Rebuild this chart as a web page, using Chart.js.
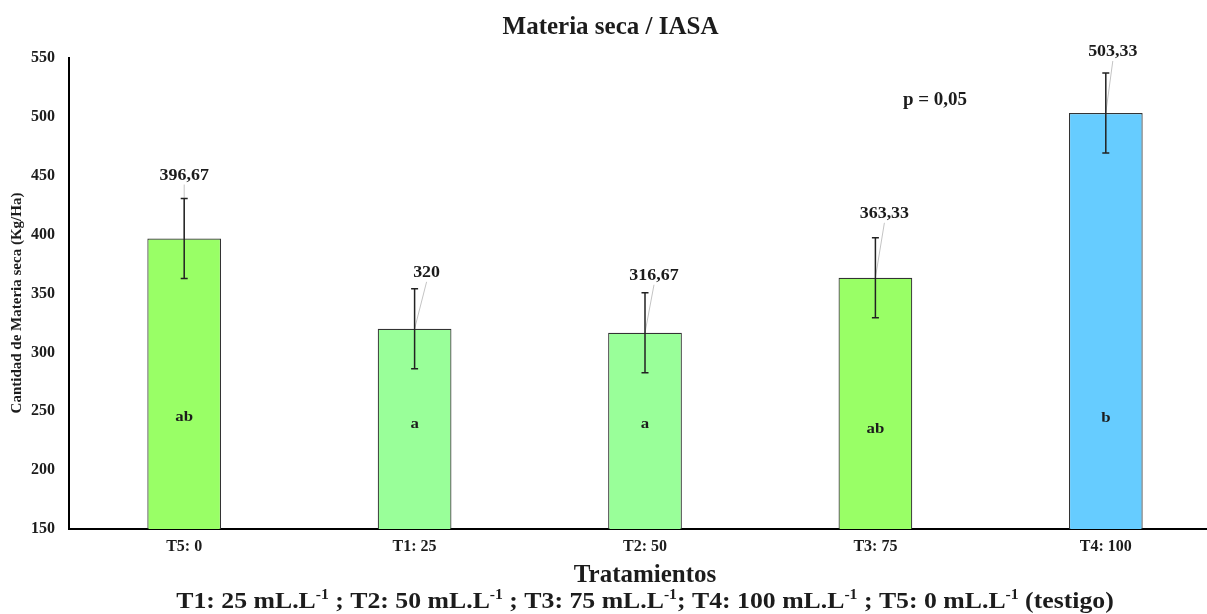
<!DOCTYPE html>
<html>
<head>
<meta charset="utf-8">
<script src="https://cdn.jsdelivr.net/npm/chart.js@4/dist/chart.umd.min.js"></script>
<style>
  html, body { margin: 0; padding: 0; background: #fff; overflow: hidden; }
  #wrap { width: 1222px; height: 614px; }
</style>
</head>
<body>
<div id="wrap"><canvas id="c" width="1222" height="614"></canvas></div>
<script>
// Dry matter per treatment (kg/ha), standard error and Tukey groups
const categories = ['T5: 0', 'T1: 25', 'T2: 50', 'T3: 75', 'T4: 100'];
const means = [396.67, 320, 316.67, 363.33, 503.33];
const errors = [34, 34, 34, 34, 34];
const groups = ['ab', 'a', 'a', 'ab', 'b'];
const yMin = 150, yMax = 550, yStep = 50;
const barColors = ['#99FF66', '#99FF99', '#99FF99', '#99FF66', '#66CCFF'];

const titleText = 'Materia seca / IASA';
const yTitleText = 'Cantidad de Materia seca (Kg/Ha)';
const xTitleText = 'Tratamientos';
const pText = 'p = 0,05';
// Footer legend: [text, isSuperscript]
const footerParts = [
  ['T1: 25 mL.L', false], ['-1', true], [' ; T2: 50 mL.L', false], ['-1', true],
  [' ; T3: 75 mL.L', false], ['-1', true], ['; T4: 100 mL.L', false], ['-1', true],
  [' ; T5: 0 mL.L', false], ['-1', true], [' (testigo)', false]
];

// Placement of value labels relative to the top of each bar (px)
const labelShift = [[0, -63], [12, -56], [9, -57], [9, -64], [7, -61]];
// Value-axis height at which each group letter sits
const letterAt = [245, 239, 239, 235, 244];

const SERIF = '"Liberation Serif", "Times New Roman", serif';
const INK = '#1c1c1c';
const WIDEN = 1.12; // horizontal stretch of annotation text

const fmt = v => String(v).replace('.', ',');

// draw text centred at (x, y), slightly widened
function wideText(ctx, text, x, y, font) {
  ctx.save();
  ctx.font = font;
  ctx.textAlign = 'center';
  ctx.textBaseline = 'middle';
  ctx.translate(x, y);
  ctx.scale(WIDEN, 1);
  ctx.fillText(text, 0, 0);
  ctx.restore();
}

const annotate = {
  id: 'annotate',
  afterDatasetsDraw(chart) {
    const ctx = chart.ctx;
    const meta = chart.getDatasetMeta(0);
    const y = chart.scales.y;
    ctx.save();
    meta.data.forEach((bar, i) => {
      const x = bar.x;
      const top = y.getPixelForValue(means[i]);
      const hi = y.getPixelForValue(means[i] + errors[i]);
      const lo = y.getPixelForValue(means[i] - errors[i]);

      // leader line from value label to bar top
      const lx = x + labelShift[i][0];
      const ly = top + labelShift[i][1];
      ctx.strokeStyle = '#c4c4c4';
      ctx.lineWidth = 1;
      ctx.beginPath();
      ctx.moveTo(lx, ly + 9);
      ctx.lineTo(x, top);
      ctx.stroke();

      // error bar
      ctx.strokeStyle = '#222';
      ctx.lineWidth = 1.5;
      ctx.beginPath();
      ctx.moveTo(x, hi); ctx.lineTo(x, lo);
      ctx.moveTo(x - 3.5, hi); ctx.lineTo(x + 3.5, hi);
      ctx.moveTo(x - 3.5, lo); ctx.lineTo(x + 3.5, lo);
      ctx.stroke();

      ctx.fillStyle = INK;
      // value label
      wideText(ctx, fmt(means[i]), lx, ly, 'bold 16px ' + SERIF);
      // group letter
      wideText(ctx, groups[i], x, y.getPixelForValue(letterAt[i]), 'bold 15px ' + SERIF);
    });
    ctx.restore();
  },
  afterDraw(chart) {
    const ctx = chart.ctx;
    const area = chart.chartArea;
    ctx.save();
    ctx.fillStyle = INK;

    // y-axis title
    ctx.save();
    ctx.translate(17, 303);
    ctx.rotate(-Math.PI / 2);
    ctx.font = 'bold 15px ' + SERIF;
    ctx.textAlign = 'center';
    ctx.textBaseline = 'middle';
    ctx.fillText(yTitleText, 0, 0);
    ctx.restore();

    // significance level
    ctx.font = 'bold 19px ' + SERIF;
    ctx.textAlign = 'center';
    ctx.textBaseline = 'middle';
    ctx.fillText(pText, 935, 100);

    // footer legend with superscripts
    const base = 'bold 23px ' + SERIF;
    const sup = 'bold 14px ' + SERIF;
    let total = 0;
    footerParts.forEach(([t, s]) => { ctx.font = s ? sup : base; total += ctx.measureText(t).width; });
    ctx.save();
    ctx.translate((area.left + area.right) / 2, 602);
    ctx.scale(WIDEN, 1);
    let fx = -total / 2;
    ctx.textAlign = 'left';
    ctx.textBaseline = 'middle';
    footerParts.forEach(([t, s]) => {
      ctx.font = s ? sup : base;
      ctx.fillText(t, fx, s ? -7 : 0);
      fx += ctx.measureText(t).width;
    });
    ctx.restore();
    ctx.restore();
  }
};

new Chart(document.getElementById('c'), {
  type: 'bar',
  data: {
    labels: categories,
    datasets: [{
      data: means,
      backgroundColor: barColors,
      borderColor: '#333',
      borderWidth: 1.2,
      barPercentage: 0.32,
      categoryPercentage: 1
    }]
  },
  options: {
    responsive: false,
    animation: false,
    devicePixelRatio: 1,
    layout: { padding: { left: 0, right: 1, top: 0, bottom: 0 } },
    plugins: {
      legend: { display: false },
      tooltip: { enabled: false },
      title: {
        display: true,
        text: titleText,
        color: INK,
        font: { family: SERIF, size: 25, weight: 'bold', lineHeight: 1.2 },
        padding: { top: 13, bottom: 15 }
      }
    },
    scales: {
      x: {
        grid: { display: false, drawTicks: false },
        border: { display: true, color: '#000', width: 2 },
        ticks: { color: INK, padding: 8, font: { family: SERIF, size: 16, weight: 'bold' } },
        title: {
          display: true,
          text: xTitleText,
          color: INK,
          font: { family: SERIF, size: 25, weight: 'bold', lineHeight: 1.2 },
          padding: { top: 0, bottom: 23 }
        },
        afterFit(scale) { scale.height = 85; }
      },
      y: {
        min: yMin,
        max: yMax,
        grid: { display: false, drawTicks: false },
        border: { display: true, color: '#000', width: 2 },
        ticks: { stepSize: yStep, color: INK, padding: 14, font: { family: SERIF, size: 16, weight: 'bold' } },
        afterFit(scale) { scale.width = 69; }
      }
    }
  },
  plugins: [annotate]
});
</script>
</body>
</html>
